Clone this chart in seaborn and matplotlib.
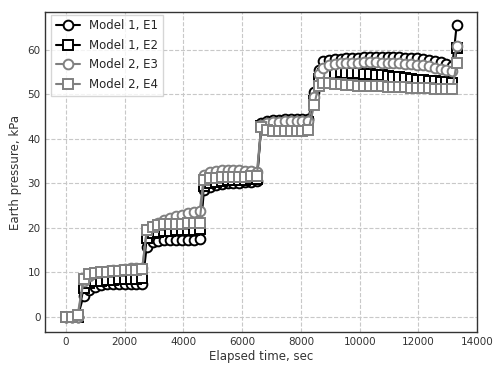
import numpy as np
import pandas as pd
import matplotlib
matplotlib.use("Agg")
import matplotlib.pyplot as plt
import seaborn as sns

# Sampling times (s)
time_s = [
    0, 200, 400,
    600, 800, 1000, 1200, 1400, 1600, 1800, 2000, 2200, 2400, 2600,
    2750, 2950, 3150, 3350, 3550, 3750, 3950, 4150, 4350, 4550,
    4700, 4900, 5100, 5300, 5500, 5700, 5900, 6100, 6300, 6500,
    6650, 6850, 7050, 7250, 7450, 7650, 7850, 8050, 8250,
    8450, 8600,
    8750, 8950, 9150, 9350, 9550, 9750, 9950, 10150, 10350, 10550, 10750, 10950,
    11150, 11350, 11550, 11750, 11950, 12150, 12350, 12550, 12750, 12950, 13150,
    13300,
]

# Earth pressure (kPa)
model1_e1 = [
    0, 0, 0,
    4.8, 6.0, 6.8, 7.2, 7.4, 7.4, 7.5, 7.5, 7.5, 7.5, 7.5,
    15.8, 16.8, 17.1, 17.3, 17.3, 17.4, 17.4, 17.4, 17.4, 17.5,
    28.5, 29.3, 29.6, 29.8, 30.0, 30.0, 30.2, 30.3, 30.4, 30.5,
    43.5, 44.0, 44.2, 44.3, 44.4, 44.4, 44.5, 44.5, 44.5,
    50.5, 55.5,
    57.5, 57.8, 58.0, 58.0, 58.1, 58.2, 58.2, 58.3, 58.3, 58.3, 58.4, 58.4,
    58.3, 58.3, 58.2, 58.2, 58.1, 58.0, 57.8, 57.5, 57.2, 56.8, 56.3,
    65.5,
]
model1_e2 = [
    0, 0, 0,
    6.5, 7.6, 8.0, 8.2, 8.3, 8.4, 8.5, 8.5, 8.6, 8.6, 8.7,
    17.8, 18.8, 19.1, 19.3, 19.4, 19.5, 19.5, 19.6, 19.6, 19.7,
    29.5, 30.2, 30.4, 30.6, 30.7, 30.7, 30.8, 30.8, 30.9, 30.9,
    42.8, 43.3, 43.5, 43.6, 43.7, 43.7, 43.8, 43.8, 43.8,
    48.5, 53.5,
    54.5, 54.8, 54.9, 55.0, 54.9, 54.8, 54.7, 54.6, 54.5, 54.4, 54.3, 54.1,
    54.0, 53.8, 53.6, 53.5, 53.3, 53.2, 53.0, 52.9, 52.8, 52.7, 52.6,
    60.5,
]
model2_e3 = [
    0, 0, 0,
    8.0, 9.3, 9.8, 10.1, 10.3, 10.5, 10.6, 10.8, 10.9, 11.0, 11.1,
    19.5, 20.5, 21.2, 21.8, 22.3, 22.7, 23.0, 23.3, 23.5, 23.7,
    31.8, 32.5, 32.8, 33.0, 33.1, 33.1, 33.0, 32.9, 32.7, 32.5,
    43.2, 43.6, 43.8, 43.9, 44.0, 44.0, 44.1, 44.1, 44.1,
    49.5, 54.5,
    56.0, 56.5, 56.8, 57.0, 57.0, 57.1, 57.1, 57.2, 57.2, 57.2, 57.1, 57.1,
    57.0, 57.0, 56.9, 56.8, 56.7, 56.5, 56.3, 56.0, 55.7, 55.5, 55.3,
    60.8,
]
model2_e4 = [
    0, 0, 0.5,
    8.5, 9.6, 9.8, 10.0, 10.1, 10.3, 10.4, 10.5, 10.6, 10.6, 10.7,
    19.5, 20.3, 20.6, 20.8, 20.9, 21.0, 21.0, 21.1, 21.1, 21.2,
    30.8, 31.2, 31.3, 31.4, 31.4, 31.5, 31.5, 31.5, 31.6, 31.7,
    42.6, 41.9, 41.8, 41.8, 41.7, 41.8, 41.8, 41.8, 41.9,
    47.6, 52.0,
    52.6, 52.5, 52.4, 52.3, 52.2, 52.1, 52.0, 51.9, 51.9, 51.8, 51.8, 51.7,
    51.7, 51.6, 51.6, 51.5, 51.5, 51.4, 51.4, 51.3, 51.3, 51.2, 51.2,
    57.0,
]

series_names = ["Model 1, E1", "Model 1, E2", "Model 2, E3", "Model 2, E4"]
series_values = [model1_e1, model1_e2, model2_e3, model2_e4]
series_colors = ["black", "black", "#808080", "#808080"]
series_markers = ["o", "s", "o", "s"]

x_ticks = [0, 2000, 4000, 6000, 8000, 10000, 12000, 14000]
y_ticks = [0, 10, 20, 30, 40, 50, 60]

sns.set_style("white")
plt.rcParams["font.family"] = ["DejaVu Sans"]

fig = plt.figure(figsize=(4.93, 3.65), dpi=100)
ax = fig.add_axes([0.092, 0.09, 0.876, 0.877])

for name, vals, col, mk in zip(series_names, series_values, series_colors, series_markers):
    df = pd.DataFrame({"t": time_s, "p": vals})
    sns.lineplot(data=df, x="t", y="p", ax=ax, color=col, marker=mk,
                 markersize=7, markerfacecolor="white", markeredgecolor=col,
                 markeredgewidth=1.4, linewidth=1.5, label=name,
                 estimator=None, sort=False)

ax.set_xlim(-700, 14000)
ax.set_ylim(-3.4, 68.5)
ax.set_xticks(x_ticks)
ax.set_yticks(y_ticks)
ax.tick_params(direction="in", labelsize=7.5, length=4, width=0.8, colors="#333333",
               labelcolor="#333333")
ax.grid(True, linestyle="--", color="#c8c8c8", linewidth=0.8)
for sp in ax.spines.values():
    sp.set_color("#333333")
    sp.set_linewidth(1.0)

ax.set_xlabel("Elapsed time, sec", fontsize=8.5, color="#333333", labelpad=2)
ax.set_ylabel("Earth pressure, kPa", fontsize=8.5, color="#333333", labelpad=4)

leg = ax.legend(loc="upper left", fontsize=8.5, frameon=True, handlelength=2.0,
                borderpad=0.4, labelspacing=0.55, fancybox=False,
                bbox_to_anchor=(0.0, 1.01))
leg.get_frame().set_edgecolor("#cccccc")

fig.savefig("out.png", dpi=100)
